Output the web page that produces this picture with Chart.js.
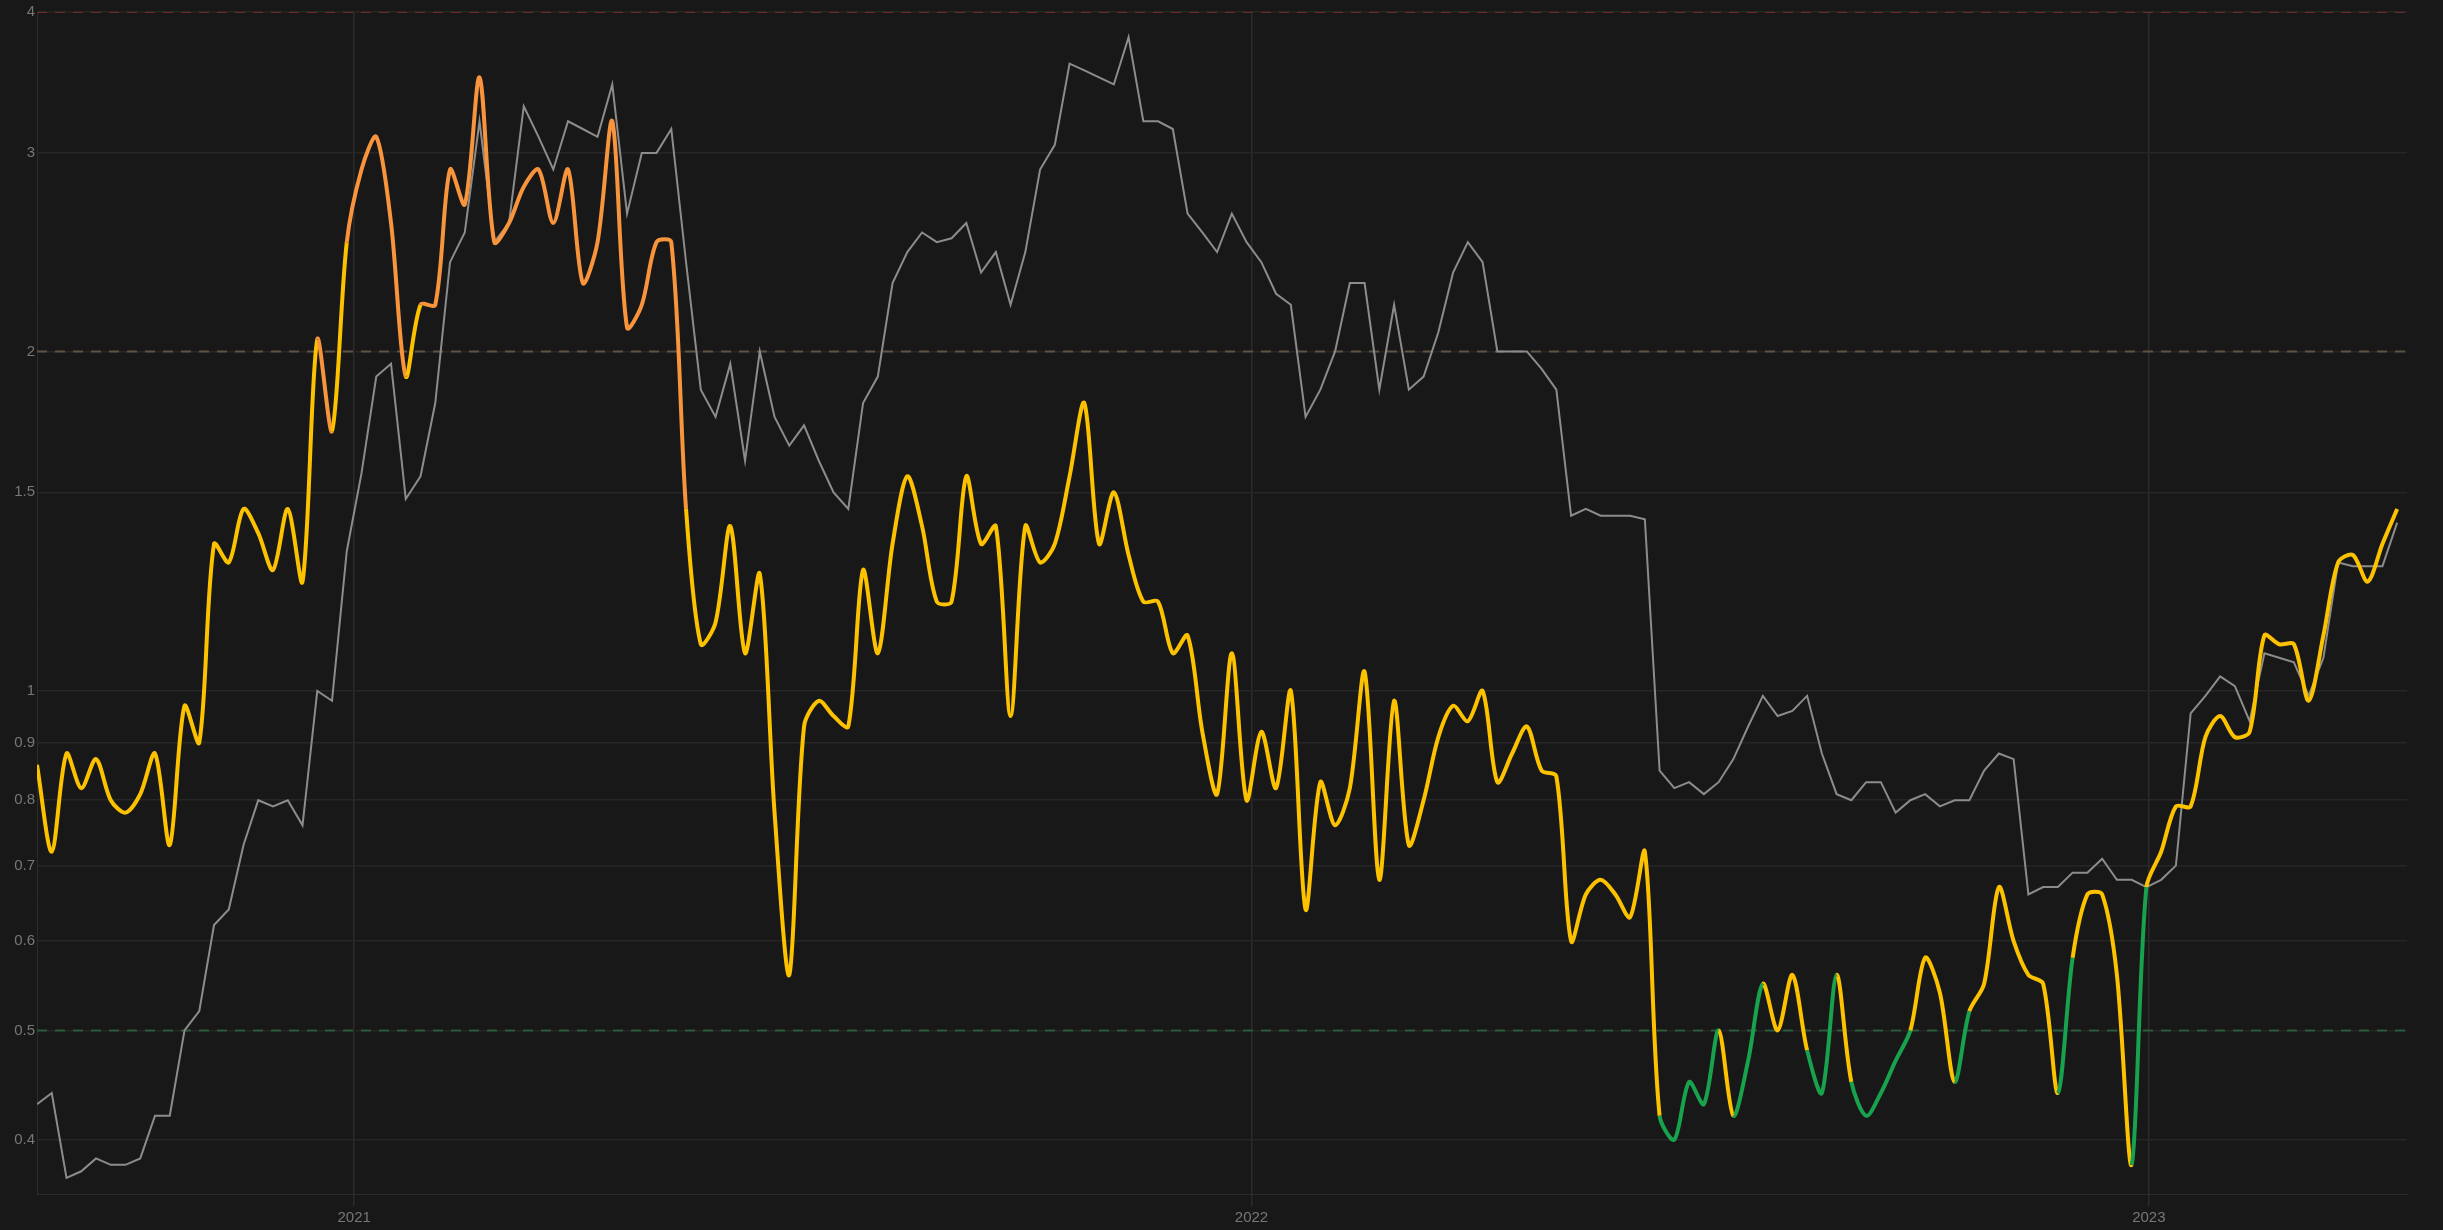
<!DOCTYPE html>
<html>
<head>
<meta charset="utf-8">
<script src="https://cdn.jsdelivr.net/npm/chart.js@4/dist/chart.umd.min.js"></script>
<style>
  html, body { margin: 0; padding: 0; background: #181818; }
  #wrap { width: 2443px; height: 1230px; }
</style>
</head>
<body>
<div id="wrap"><canvas id="ratioChart"></canvas></div>
<script>
// days since 2020-08-25, sampled every 6 days
const days = [0,6,12,18,24,30,36,42,48,54,60,66,72,78,84,90,96,102,108,114,120,126,132,138,144,150,156,162,168,174,180,186,192,198,
  204,210,216,222,228,234,240,246,252,258,264,270,276,282,288,294,300,306,312,318,324,330,336,342,348,354,360,366,372,378,384,390,396,
  402,408,414,420,426,432,438,444,450,456,462,468,474,480,486,492,498,504,510,516,522,528,534,540,546,552,558,564,570,576,582,588,594,
  600,606,612,618,624,630,636,642,648,654,660,666,672,678,684,690,696,702,708,714,720,726,732,738,744,750,756,762,768,774,780,786,792,
  798,804,810,816,822,828,834,840,846,852,858,864,870,876,882,888,894,900,906,912,918,924,930,936,942,948,954,960];

const ratioValues = [0.86,0.72,0.88,0.82,0.87,0.8,0.78,0.81,0.88,0.73,0.97,0.9,1.35,1.3,1.45,1.38,1.28,1.45,1.25,2.05,1.7,2.5,2.9,3.1,2.6,1.9,2.2,2.2,2.9,2.7,3.5,2.5,2.6,2.8,
  2.9,2.6,2.9,2.3,2.5,3.2,2.1,2.2,2.5,2.5,1.45,1.1,1.15,1.4,1.08,1.27,0.78,0.56,0.93,0.98,0.95,0.93,1.28,1.08,1.35,1.55,1.4,1.2,1.2,1.55,1.35,1.4,0.95,
  1.4,1.3,1.35,1.55,1.8,1.35,1.5,1.32,1.2,1.2,1.08,1.12,0.92,0.81,1.08,0.8,0.92,0.82,1.0,0.64,0.83,0.76,0.82,1.04,0.68,0.98,0.73,0.8,0.91,0.97,0.94,1.0,0.83,
  0.88,0.93,0.85,0.84,0.6,0.66,0.68,0.66,0.63,0.72,0.42,0.4,0.45,0.43,0.5,0.42,0.47,0.55,0.5,0.56,0.48,0.44,0.56,0.45,0.42,0.44,0.47,0.5,0.58,0.54,0.45,0.52,0.55,
  0.67,0.6,0.56,0.55,0.44,0.58,0.66,0.66,0.56,0.38,0.67,0.72,0.79,0.79,0.91,0.95,0.91,0.92,1.12,1.1,1.1,0.98,1.12,1.3,1.32,1.25,1.35,1.45];

const smoothValues = [0.43,0.44,0.37,0.375,0.385,0.38,0.38,0.385,0.42,0.42,0.5,0.52,0.62,0.64,0.73,0.8,0.79,0.8,0.76,1.0,0.98,1.33,1.56,1.9,1.95,1.48,1.55,1.8,2.4,2.55,3.2,2.5,2.6,3.3,
  3.1,2.9,3.2,3.15,3.1,3.45,2.65,3.0,3.0,3.15,2.4,1.85,1.75,1.95,1.6,2.0,1.75,1.65,1.72,1.6,1.5,1.45,1.8,1.9,2.3,2.45,2.55,2.5,2.52,2.6,2.35,2.45,2.2,
  2.45,2.9,3.05,3.6,3.55,3.5,3.45,3.8,3.2,3.2,3.15,2.65,2.55,2.45,2.65,2.5,2.4,2.25,2.2,1.75,1.85,2.0,2.3,2.3,1.85,2.2,1.85,1.9,2.08,2.35,2.5,2.4,2.0,
  2.0,2.0,1.93,1.85,1.43,1.45,1.43,1.43,1.43,1.42,0.85,0.82,0.83,0.81,0.83,0.87,0.93,0.99,0.95,0.96,0.99,0.88,0.81,0.8,0.83,0.83,0.78,0.8,0.81,0.79,0.8,0.8,0.85,
  0.88,0.87,0.66,0.67,0.67,0.69,0.69,0.71,0.68,0.68,0.67,0.68,0.70,0.955,0.99,1.03,1.01,0.94,1.08,1.07,1.06,0.99,1.07,1.3,1.29,1.29,1.29,1.41];

const yTicks = [0.4, 0.5, 0.6, 0.7, 0.8, 0.9, 1, 1.5, 2, 3, 4];
const yearDays = [129, 494, 859];
const yearLabels = ['2021', '2022', '2023'];
const levels = [4, 2, 0.5];
const levelColors = ['#6e2a2a', '#5e5345', '#2a5a3c'];

const HIGH = 2, LOW = 0.5;

function pts(vals) { return vals.map((v, i) => ({ x: days[i], y: v })); }

const levelSets = levels.map((lv, i) => ({
  data: [{ x: 0, y: lv }, { x: 964, y: lv }],
  borderColor: levelColors[i],
  borderWidth: 2,
  borderDash: [10, 8],
  pointRadius: 0,
  tension: 0,
  order: 3
}));

new Chart(document.getElementById('ratioChart'), {
  type: 'line',
  data: {
    datasets: [
      ...levelSets,
      {
        data: pts(smoothValues),
        borderColor: '#8c8c8c',
        borderWidth: 2,
        pointRadius: 0,
        tension: 0,
        order: 2
      },
      {
        data: pts(ratioValues),
        borderColor: '#fcc200',
        borderWidth: 4,
        pointRadius: 0,
        tension: 0.3,
        order: 1,
        segment: {
          borderColor: ctx => {
            const v = ctx.p0.parsed.y;
            if (v > HIGH) return '#f7943c';
            if (v < LOW) return '#19a24d';
            return '#fcc200';
          }
        }
      }
    ]
  },
  options: {
    responsive: true,
    maintainAspectRatio: false,
    animation: false,
    layout: { padding: { top: 12, right: 36, left: 0, bottom: 0 } },
    plugins: { legend: { display: false }, tooltip: { enabled: false } },
    scales: {
      x: {
        type: 'linear',
        min: 0,
        max: 964,
        afterBuildTicks: axis => { axis.ticks = yearDays.map(v => ({ value: v })); },
        ticks: {
          color: '#777',
          font: { size: 15, family: 'Liberation Sans' },
          callback: (v) => yearLabels[yearDays.indexOf(v)]
        },
        grid: { color: '#2b2b2b', lineWidth: 1.5, tickLength: 12 },
        border: { color: '#2b2b2b' }
      },
      y: {
        type: 'logarithmic',
        min: 0.358,
        max: 4,
        afterBuildTicks: axis => { axis.ticks = yTicks.map(v => ({ value: v })); },
        afterFit: axis => { axis.width = 37; },
        ticks: {
          color: '#777',
          padding: 2,
          font: { size: 15, family: 'Liberation Sans' },
          callback: v => String(v)
        },
        grid: { color: '#262626', lineWidth: 1.5, drawTicks: false },
        border: { color: '#2b2b2b' }
      }
    }
  }
});
</script>
</body>
</html>
